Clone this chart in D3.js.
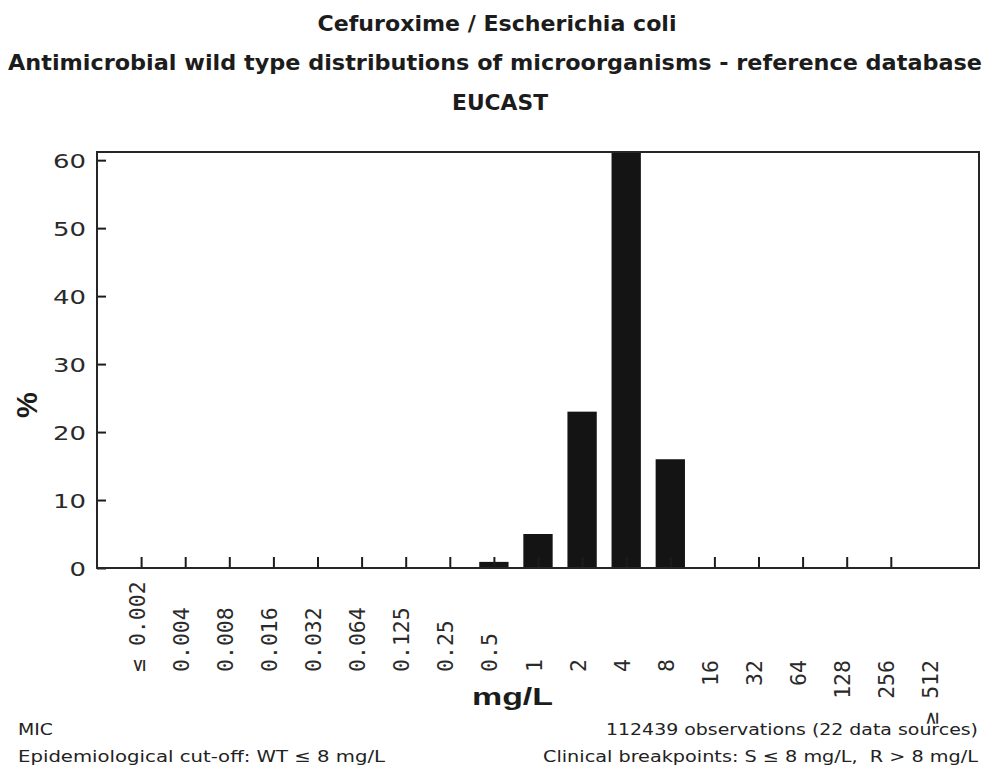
<!DOCTYPE html>
<html>
<head>
	<title>Cefuroxime / Escherichia coli</title>
	<script src="https://d3js.org/d3.v7.min.js"></script>
	<style>
		body { margin: 0; background: #fff; }
		svg { display: block; }
	</style>
</head>
<body>
<script type="text/javascript">
	// MIC categories (mg/L) and % of isolates
	var categories = ['\u2264 0.002', '0.004', '0.008', '0.016', '0.032', '0.064', '0.125', '0.25', '0.5',
		'1', '2', '4', '8', '16', '32', '64', '128', '256', '\u2265 512'];
	var percents = [0, 0, 0, 0, 0, 0, 0, 0, 0.9, 5.0, 23.0, 61.2, 16.0, 0, 0, 0, 0, 0, 0];
	var yTicks = [0, 10, 20, 30, 40, 50, 60];
	var cutoff = '8';

	var titles = ['Cefuroxime / Escherichia coli',
		'Antimicrobial wild type distributions of microorganisms - reference database',
		'EUCAST'];
	var notesLeft = ['MIC', 'Epidemiological cut-off: WT \u2264 8 mg/L'];
	var notesRight = ['112439 observations (22 data sources)', 'Clinical breakpoints: S \u2264 8 mg/L,\u00a0 R > 8 mg/L'];

	var width = 989, height = 769;
	var plot = { left: 97, right: 979, top: 152, bottom: 568 };
	var ink = '#1c1c1c';

	var svg = d3.select('body').append('svg')
		.attr('width', width)
		.attr('height', height);

	// titles
	var titleLayout = [
		{ x: 497, y: 31, len: 359 },
		{ x: 495, y: 70, len: 974 },
		{ x: 500, y: 110, len: 96 }
	];
	svg.selectAll('.title')
		.data(titles)
		.enter()
		.append('text')
		.attr('class', 'title')
		.attr('x', function(d, i) { return titleLayout[i].x; })
		.attr('y', function(d, i) { return titleLayout[i].y; })
		.attr('text-anchor', 'middle')
		.attr('textLength', function(d, i) { return titleLayout[i].len; })
		.attr('lengthAdjust', 'spacingAndGlyphs')
		.attr('font-family', 'DejaVu Sans')
		.attr('font-weight', 'bold')
		.attr('font-size', 22)
		.attr('fill', ink)
		.text(function(d) { return d; });

	var x = d3.scalePoint()
		.domain(categories)
		.range([plot.left, plot.right])
		.padding(1);
	var barWidth = x.step() * 0.665;

	var y = d3.scaleLinear()
		.domain([0, d3.max(percents)])
		.range([plot.bottom, plot.top]);

	// bars
	svg.selectAll('.bar')
		.data(percents)
		.enter()
		.append('rect')
		.attr('class', 'bar')
		.attr('x', function(d, i) { return x(categories[i]) - barWidth / 2; })
		.attr('y', function(d) { return y(d); })
		.attr('width', barWidth)
		.attr('height', function(d) { return y(0) - y(d); })
		.attr('fill', '#141414');

	// y axis, ticks pointing into the plot
	var yAxis = svg.append('g')
		.attr('transform', 'translate(' + plot.left + ',0)')
		.call(d3.axisLeft(y).tickValues(yTicks).tickSizeInner(-9).tickSizeOuter(0).tickPadding(11));
	yAxis.select('.domain').remove();
	yAxis.selectAll('line').attr('stroke', ink).attr('stroke-width', 2);
	yAxis.selectAll('text')
		.attr('font-family', 'DejaVu Sans')
		.attr('font-size', 20)
		.attr('fill', '#2a2a2a')
		.attr('dy', '0.36em')
		.attr('textLength', function(d) { return String(d).length * 16.5; })
		.attr('lengthAdjust', 'spacingAndGlyphs');

	// x axis
	var cutIndex = categories.indexOf(cutoff);
	var xAxis = svg.append('g')
		.attr('transform', 'translate(0,' + plot.bottom + ')')
		.call(d3.axisBottom(x).tickSizeInner(-11).tickSizeOuter(0));
	xAxis.select('.domain').remove();
	xAxis.selectAll('line').attr('stroke', ink).attr('stroke-width', 2);
	xAxis.selectAll('.tick').filter(function(d) { return d === categories[categories.length - 1]; })
		.select('line').remove();
	xAxis.selectAll('text')
		.attr('font-family', 'DejaVu Sans Mono')
		.attr('font-size', 21.5)
		.attr('fill', '#2a2a2a')
		.attr('dy', null)
		.attr('transform', 'rotate(-90)')
		.attr('y', 3)
		.attr('x', function(d) { return categories.indexOf(d) > cutIndex ? -92 : -104; })
		.attr('text-anchor', function(d) { return categories.indexOf(d) > cutIndex ? 'end' : 'start'; });

	// plot frame
	svg.append('rect')
		.attr('x', plot.left)
		.attr('y', plot.top)
		.attr('width', plot.right - plot.left)
		.attr('height', plot.bottom - plot.top)
		.attr('fill', 'none')
		.attr('stroke', '#262626')
		.attr('stroke-width', 2);

	// axis titles
	svg.append('text')
		.attr('transform', 'translate(37,405) rotate(-90)')
		.attr('text-anchor', 'middle')
		.attr('font-family', 'Liberation Sans')
		.attr('font-weight', 'bold')
		.attr('font-size', 29)
		.attr('fill', ink)
		.text('%');
	svg.append('text')
		.attr('x', 472)
		.attr('y', 705)
		.attr('textLength', 81)
		.attr('lengthAdjust', 'spacingAndGlyphs')
		.attr('font-family', 'Liberation Sans')
		.attr('font-weight', 'bold')
		.attr('font-size', 24)
		.attr('fill', ink)
		.text('mg/L');

	// footnotes
	var leftLen = [35, 367], rightLen = [372, 435];
	svg.selectAll('.noteL')
		.data(notesLeft)
		.enter()
		.append('text')
		.attr('class', 'noteL')
		.attr('x', 18)
		.attr('y', function(d, i) { return 735 + i * 27; })
		.attr('textLength', function(d, i) { return leftLen[i]; })
		.attr('lengthAdjust', 'spacingAndGlyphs')
		.attr('font-family', 'DejaVu Sans')
		.attr('font-size', 16.5)
		.attr('fill', '#222')
		.text(function(d) { return d; });
	svg.selectAll('.noteR')
		.data(notesRight)
		.enter()
		.append('text')
		.attr('class', 'noteR')
		.attr('x', 978)
		.attr('y', function(d, i) { return 735 + i * 27; })
		.attr('text-anchor', 'end')
		.attr('textLength', function(d, i) { return rightLen[i]; })
		.attr('lengthAdjust', 'spacingAndGlyphs')
		.attr('font-family', 'DejaVu Sans')
		.attr('font-size', 16.5)
		.attr('fill', '#222')
		.text(function(d) { return d; });
</script>
</body>
</html>
